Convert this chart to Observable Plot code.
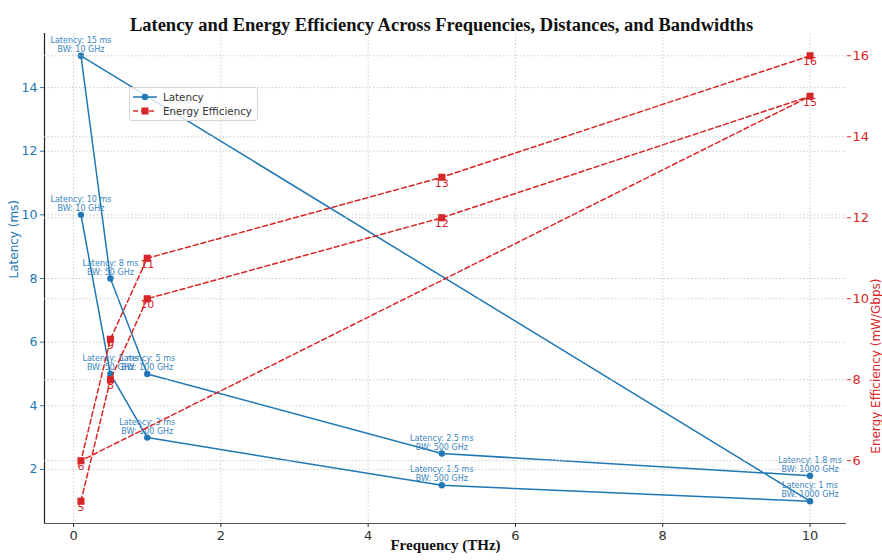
<!DOCTYPE html>
<html><head><meta charset="utf-8">
<script src="https://cdn.jsdelivr.net/npm/d3@7"></script>
<script src="https://cdn.jsdelivr.net/npm/@observablehq/plot@0.6"></script>
<style>
body{margin:0;background:#fff;}
#wrap{position:relative;width:882px;height:560px;overflow:hidden;background:#fff;}
#wrap > svg{position:absolute;left:0;top:0;}
.legend{position:absolute;left:129px;top:87px;width:127px;height:32px;border:1px solid #d6d6d6;border-radius:3px;background:rgba(255,255,255,0.8);font:10.3px "DejaVu Sans",sans-serif;color:#333;white-space:nowrap;}
.legend .row{position:absolute;left:3px;height:14px;display:flex;align-items:center;white-space:nowrap;}
.legend svg{margin-right:6px;flex:none;}
</style></head><body><div id="wrap"></div>
<script>
// ---- data ----
const frequencies = [0.1, 0.5, 1, 5, 10, 0.1, 0.5, 1, 5, 10];          // THz
const latencies   = [10, 5, 3, 1.5, 1, 15, 8, 5, 2.5, 1.8];            // ms
const bandwidths  = [10, 50, 100, 500, 1000, 10, 50, 100, 500, 1000];   // GHz
const efficiencies = [5, 8, 10, 12, 15, 6, 9, 11, 13, 16];             // mW/Gbps
const xTicks = [0, 2, 4, 6, 8, 10];
const latencyTicks = [2, 4, 6, 8, 10, 12, 14];
const efficiencyTicks = [6, 8, 10, 12, 14, 16];
const titleText = "Latency and Energy Efficiency Across Frequencies, Distances, and Bandwidths";
const xLabel = "Frequency (THz)";
const yLabelLeft = "Latency (ms)";
const yLabelRight = "Energy Efficiency (mW/Gbps)";

const rows = frequencies.map((f, i) => ({f, lat: latencies[i], bw: bandwidths[i], eff: efficiencies[i]}));

const pad = ext => { const m = (ext[1] - ext[0]) * 0.05; return [ext[0] - m, ext[1] + m]; };
const xDomain = pad(d3.extent(frequencies));
const latDomain = pad(d3.extent(latencies));
const effDomain = pad(d3.extent(efficiencies));

const blue = "#1f77b4", red = "#d62728";
const gridStyle = {stroke: "#c8c8c8", strokeOpacity: 1, strokeDasharray: "1.5,2", strokeWidth: 0.9};
const common = {
  width: 882, height: 560,
  marginLeft: 44, marginRight: 36, marginTop: 33, marginBottom: 37,
  style: {background: "transparent", fontFamily: "DejaVu Sans", overflow: "visible"}
};

const plotA = Plot.plot({
  ...common,
  x: {domain: xDomain, axis: null},
  y: {domain: latDomain, axis: null},
  marks: [
    Plot.gridX({ticks: xTicks, ...gridStyle}),
    Plot.gridY({ticks: latencyTicks, ...gridStyle}),
    Plot.ruleX([xDomain[0]], {stroke: "#222", strokeWidth: 1.2}),
    Plot.ruleY([latDomain[0]], {stroke: "#555", strokeWidth: 1.2}),
    Plot.axisX({ticks: xTicks, tickSize: 4, tickPadding: 3, fontSize: 13, color: "#333", label: null}),
    Plot.axisY({ticks: latencyTicks, tickSize: 4, tickPadding: 3, fontSize: 12.5, color: blue, label: null}),
    Plot.line(rows, {x: "f", y: "lat", stroke: blue, strokeWidth: 1.5}),
    Plot.dot(rows, {x: "f", y: "lat", r: 3.2, fill: blue}),
    Plot.text(rows, {x: "f", y: "lat", text: d => `Latency: ${d.lat} ms\nBW: ${d.bw} GHz`,
      lineAnchor: "bottom", dy: -4, fontSize: 8, lineHeight: 1.12, fill: "#3a86c0"}),
    Plot.text([titleText], {text: d => d, frameAnchor: "top", dx: -4, dy: -16, fontSize: 18.5,
      fontWeight: "bold", fontFamily: "Liberation Serif", fill: "#111"}),
    Plot.text([xLabel], {text: d => d, frameAnchor: "bottom", dy: 26, fontSize: 15,
      fontWeight: "bold", fontFamily: "Liberation Serif", fill: "#111"}),
    Plot.text([yLabelLeft], {text: d => d, frameAnchor: "left", dx: -30, rotate: -90, fontSize: 12, fill: blue})
  ]
});

const plotB = Plot.plot({
  ...common,
  x: {domain: xDomain, axis: null},
  y: {domain: effDomain, axis: null},
  marks: [
    Plot.gridY({ticks: efficiencyTicks, ...gridStyle}),
    Plot.axisY({anchor: "right", ticks: efficiencyTicks, tickSize: 4, tickPadding: 2, fontSize: 13, color: red, label: null}),
    Plot.line(rows, {x: "f", y: "eff", stroke: red, strokeWidth: 1.5, strokeDasharray: "5,3"}),
    Plot.dot(rows, {x: "f", y: "eff", symbol: "square", r: 4, fill: red}),
    Plot.text(rows, {x: "f", y: "eff", text: d => `${d.eff}`, lineAnchor: "middle", dy: 6, fontSize: 11, fill: red}),
    Plot.text([yLabelRight], {text: d => d, frameAnchor: "right", dx: 30, rotate: -90, fontSize: 12, fill: red})
  ]
});

const wrap = document.getElementById("wrap");
wrap.appendChild(plotA);
wrap.appendChild(plotB);

const legend = document.createElement("div");
legend.className = "legend";
legend.innerHTML = `
  <div class="row" style="top:2px">
    <svg width="24" height="10"><line x1="0" y1="5" x2="24" y2="5" stroke="${blue}" stroke-width="1.5"/><circle cx="12" cy="5" r="3.2" fill="${blue}"/></svg>
    <span>Latency</span></div>
  <div class="row" style="top:16px">
    <svg width="24" height="10"><line x1="0" y1="5" x2="24" y2="5" stroke="${red}" stroke-width="1.5" stroke-dasharray="5,3"/><rect x="8.5" y="1.5" width="7" height="7" fill="${red}"/></svg>
    <span>Energy Efficiency</span></div>`;
wrap.appendChild(legend);
</script>
</body></html>
